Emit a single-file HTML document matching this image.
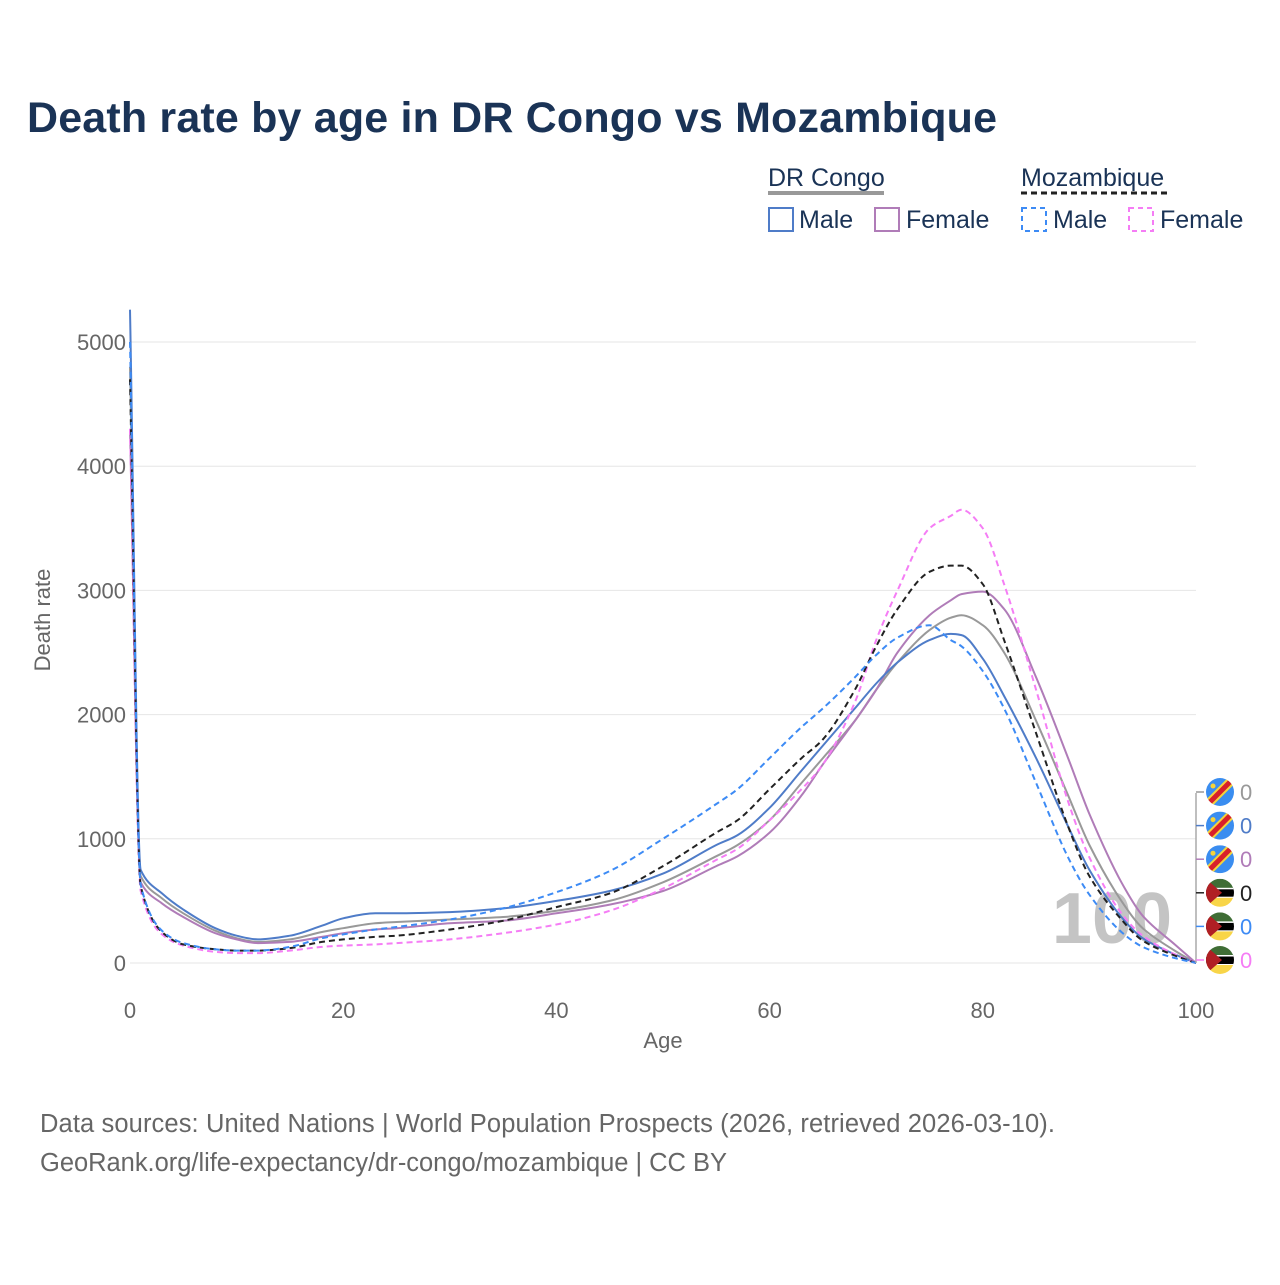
<!DOCTYPE html>
<html><head><meta charset="utf-8"><style>
body{margin:0;background:#fff;font-family:"Liberation Sans",sans-serif}
svg text{font-family:"Liberation Sans",sans-serif}
</style></head><body>
<svg id="chart" width="1280" height="1280" viewBox="0 0 1280 1280">
<text x="27" y="132" font-size="43" font-weight="bold" fill="#1a3356" textLength="970">Death rate by age in DR Congo vs Mozambique</text>
<g font-size="25" fill="#1a3356">
 <text x="768" y="186">DR Congo</text>
 <line x1="768" y1="193" x2="884" y2="193" stroke="#999" stroke-width="4"/>
 <text x="1021" y="186">Mozambique</text>
 <line x1="1021" y1="193" x2="1170" y2="193" stroke="#222" stroke-width="3" stroke-dasharray="6,4"/>
 <g><rect x="769" y="208" width="24" height="23" fill="none" stroke="#4f7cc8" stroke-width="2"/><text x="799" y="228">Male</text></g>
 <g><rect x="875" y="208" width="24" height="23" fill="none" stroke="#b07cb8" stroke-width="2"/><text x="906" y="228">Female</text></g>
 <g><rect x="1022" y="208" width="24" height="23" fill="none" stroke="#3d8bf5" stroke-width="2" stroke-dasharray="5,4"/><text x="1053" y="228">Male</text></g>
 <g><rect x="1129" y="208" width="24" height="23" fill="none" stroke="#f57df5" stroke-width="2" stroke-dasharray="5,4"/><text x="1160" y="228">Female</text></g>
</g>
<g id="grid"></g>
<g id="axes"></g>
<text x="1112" y="943" font-size="72" font-weight="bold" fill="#c4c4c4" text-anchor="middle">100</text>
<g id="series"></g>
<g id="endlabels"></g>
<text x="50" y="620" font-size="22" fill="#666" text-anchor="middle" transform="rotate(-90 50 620)">Death rate</text>
<text x="663" y="1048" font-size="22" fill="#666" text-anchor="middle">Age</text>
<text x="40" y="1132" font-size="25.5" fill="#666" textLength="1015">Data sources: United Nations | World Population Prospects (2026, retrieved 2026-03-10).</text>
<text x="40" y="1171" font-size="25.5" fill="#666" textLength="687">GeoRank.org/life-expectancy/dr-congo/mozambique | CC BY</text>
</svg>
<script>
const ages=[0,1,3,5,8,10,12,15,18,20,23,25,30,35,40,45,50,55,57,60,63,65,68,70,72,75,77,78,80,82,85,88,90,93,95,98,100];
const cdTotal=[4800,700,520,400,260,200,170,190,250,280,320,330,350,370,420,500,650,860,950,1150,1450,1650,1950,2200,2420,2680,2780,2800,2720,2500,1950,1350,950,500,280,100,0];
const cdMale=[5260,750,560,430,280,220,190,220,300,360,400,400,410,440,500,580,720,950,1030,1250,1550,1750,2050,2250,2420,2600,2650,2640,2450,2150,1650,1100,750,370,200,70,0];
const cdFemale=[4300,650,480,370,240,190,160,170,210,240,270,280,320,340,400,470,580,780,860,1050,1350,1600,1950,2200,2500,2800,2920,2970,2990,2850,2300,1650,1200,650,380,150,0];
const mzTotal=[4700,620,250,150,110,100,100,120,170,190,210,220,270,340,450,560,780,1050,1150,1400,1650,1800,2200,2550,2850,3150,3200,3200,3050,2600,1850,1100,700,350,180,60,0];
const mzMale=[5000,630,260,160,110,100,100,130,200,230,270,290,350,440,570,740,1000,1280,1400,1650,1900,2050,2300,2480,2620,2720,2600,2550,2350,2050,1450,850,550,250,130,40,0];
const mzFemale=[4300,580,230,140,90,80,80,100,130,140,150,160,190,240,310,420,600,830,920,1150,1400,1600,2100,2600,3000,3500,3600,3650,3500,3050,2200,1300,850,400,220,70,0];
const yTicks=[0,1000,2000,3000,4000,5000];
const xTicks=[0,20,40,60,80,100];
const endValues=[0,0,0,0,0,0];

const NS="http://www.w3.org/2000/svg";
const X=a=>130+a*10.66;
const Y=v=>963-v*0.1242;
function mk(t,attrs,parent){const e=document.createElementNS(NS,t);for(const k in attrs)e.setAttribute(k,attrs[k]);parent.appendChild(e);return e;}
const grid=document.getElementById('grid'),axes=document.getElementById('axes'),ser=document.getElementById('series'),endl=document.getElementById('endlabels');
yTicks.forEach(v=>{
 const l=mk('line',{x1:130,x2:1196,y1:Y(v),y2:Y(v),stroke:'#e6e6e6','stroke-width':1},grid);
 
 
 const t=mk('text',{x:126,y:Y(v)+8,'font-size':22,fill:'#666','text-anchor':'end'},axes);t.textContent=v;
 
 
});
xTicks.forEach(v=>{
 const t=mk('text',{x:X(v),y:1018,'font-size':22,fill:'#666','text-anchor':'middle'},axes);t.textContent=v;
 
 
});
function pathD(vals){
 const n=ages.length,xs=ages.map(X),ys=vals.map(Y);
 const d=[],m=new Array(n);
 for(let i=0;i<n-1;i++)d.push((ys[i+1]-ys[i])/(xs[i+1]-xs[i]));
 m[0]=d[0];m[n-1]=d[n-2];
 for(let i=1;i<n-1;i++){m[i]=(d[i-1]*d[i]<=0)?0:(2/(1/d[i-1]+1/d[i]));}
 let s='M'+xs[0].toFixed(1)+','+ys[0].toFixed(1);
 for(let i=0;i<n-1;i++){
  const h=(xs[i+1]-xs[i])/3;
  s+=' C'+(xs[i]+h).toFixed(1)+','+(ys[i]+m[i]*h).toFixed(1)+' '+(xs[i+1]-h).toFixed(1)+','+(ys[i+1]-m[i+1]*h).toFixed(1)+' '+xs[i+1].toFixed(1)+','+ys[i+1].toFixed(1);
 }
 return s;
}
const defs=[
 [cdTotal,'#999',null,'line-drc-total'],
 [cdFemale,'#b07cb8',null,'line-drc-female'],
 [cdMale,'#4f7cc8',null,'line-drc-male'],
 [mzFemale,'#f57df5','6,4','line-moz-female'],
 [mzTotal,'#222','6,4','line-moz-total'],
 [mzMale,'#3d8bf5','6,4','line-moz-male']
];
defs.forEach(s=>{
 const a={d:pathD(s[0]),fill:'none',stroke:s[1],'stroke-width':2};
 if(s[2])a['stroke-dasharray']=s[2];
 const p=mk('path',a,ser);
 
 
});
const endColors=['#999','#4f7cc8','#b07cb8','#222','#3d8bf5','#f57df5'];
mk('line',{x1:1196,x2:1196,y1:793,y2:963,stroke:'#aaa','stroke-width':1.5},endl);
const defsEl=mk('defs',{},endl);
endColors.forEach((c,i)=>{
 const cy=792+i*33.6;
 mk('line',{x1:1196,x2:1204,y1:cy,y2:cy,stroke:c,'stroke-width':1.5},endl);
 const g=mk('g',{},endl);
 
 
 const cx=1220;
 const cp=mk('clipPath',{id:'cp'+i},defsEl);
 mk('circle',{cx:cx,cy:cy,r:14},cp);
 const gg=mk('g',{'clip-path':'url(#cp'+i+')'},g);
 if(i<3){
  mk('rect',{x:cx-14,y:cy-14,width:28,height:28,fill:'#3a8df0'},gg);
  mk('line',{x1:cx-16,y1:cy+16,x2:cx+16,y2:cy-16,stroke:'#f5d33a','stroke-width':9},gg);
  mk('line',{x1:cx-16,y1:cy+16,x2:cx+16,y2:cy-16,stroke:'#d8202a','stroke-width':5},gg);
  mk('circle',{cx:cx-7,cy:cy-6,r:2.5,fill:'#f5d33a'},gg);
 } else {
  mk('rect',{x:cx-14,y:cy-14,width:28,height:10,fill:'#3f6d35'},gg);
  mk('rect',{x:cx-14,y:cy-4,width:28,height:8,fill:'#000'},gg);
  mk('rect',{x:cx-14,y:cy-5,width:28,height:1.5,fill:'#fff'},gg);
  mk('rect',{x:cx-14,y:cy+4,width:28,height:1.5,fill:'#fff'},gg);
  mk('rect',{x:cx-14,y:cy+5,width:28,height:10,fill:'#f8d548'},gg);
  mk('polygon',{points:(cx-14)+','+(cy-14)+' '+(cx+2)+','+cy+' '+(cx-14)+','+(cy+14),fill:'#b01f24'},gg);
 }
 const t=mk('text',{x:1240,y:cy+8,'font-size':22,fill:c},endl);t.textContent=endValues[i];
 
 
});
</script>
</body></html>
